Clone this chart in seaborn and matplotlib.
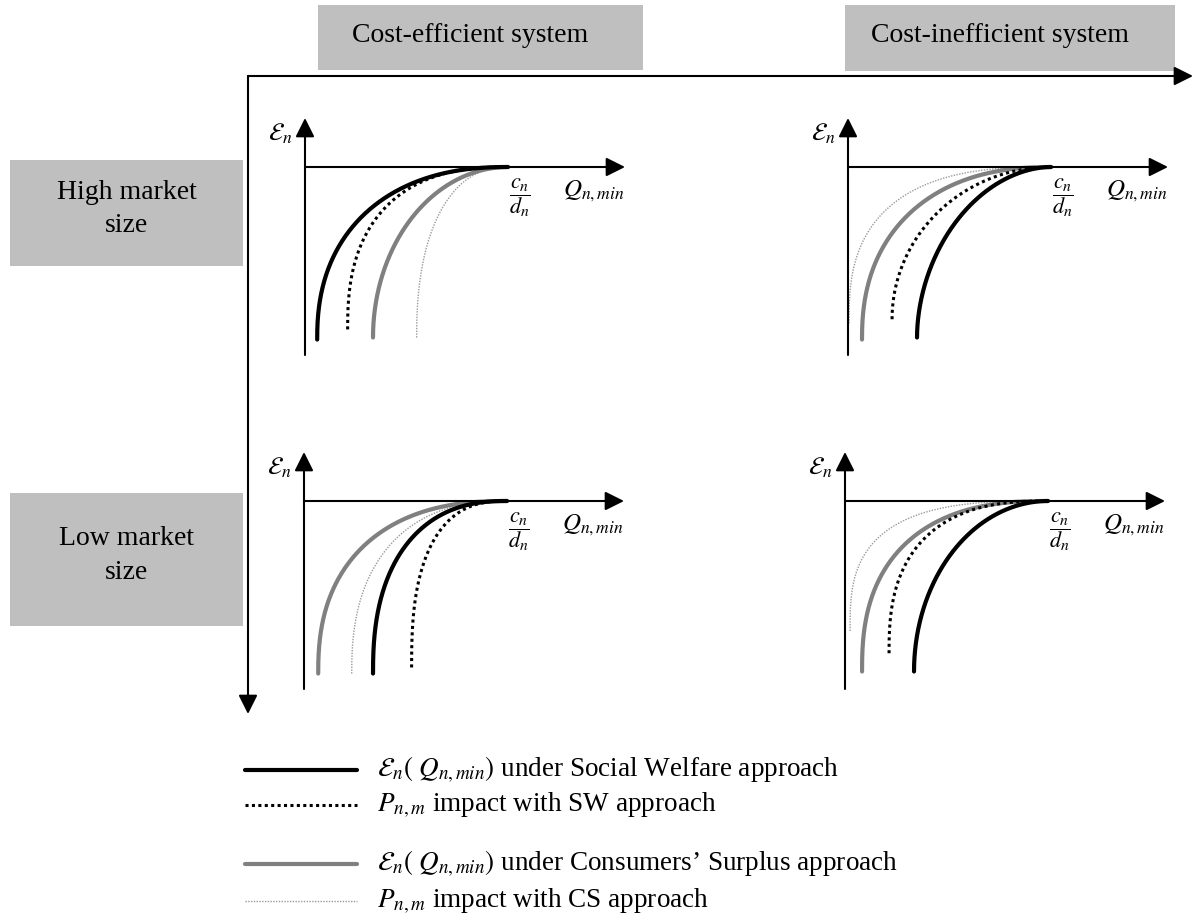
import numpy as np
import matplotlib
matplotlib.use("Agg")
import matplotlib.pyplot as plt
from matplotlib.patches import Rectangle
import seaborn as sns

# headers of the 2x2 scheme
col_labels = ["Cost-efficient system", "Cost-inefficient system"]
row_labels = ["High market\nsize", "Low market\nsize"]

# legend entries, same order as the curves below
legend_labels = [
    r"$\mathcal{E}_n(\ Q_{n,min})$ under Social Welfare approach",
    r"$P_{n,m}$ impact with SW approach",
    r"$\mathcal{E}_n(\ Q_{n,min})$ under Consumers’ Surplus approach",
    r"$P_{n,m}$ impact with CS approach",
]

# curves per panel: [SW, SW P-impact, CS, CS P-impact]
# start on the Q axis (c_n/d_n = 1), depth below zero, bend of the curve
start_high_eff = [0.06, 0.21, 0.335, 0.55]
depth_high_eff = [0.85, 0.80, 0.84, 0.84]
bend_high_eff = [2.3, 2.5, 2.0, 2.3]

start_high_ineff = [0.34, 0.217, 0.069, 0.005]
depth_high_ineff = [0.84, 0.75, 0.85, 0.77]
bend_high_ineff = [1.9, 2.0, 2.3, 2.7]

start_low_eff = [0.34, 0.53, 0.07, 0.235]
depth_low_eff = [0.85, 0.82, 0.85, 0.85]
bend_low_eff = [2.4, 2.6, 2.4, 2.4]

start_low_ineff = [0.34, 0.217, 0.084, 0.025]
depth_low_ineff = [0.84, 0.75, 0.84, 0.64]
bend_low_ineff = [2.0, 2.6, 2.5, 3.0]

sns.set_theme(style="white")
plt.rcParams["font.family"] = ["Liberation Serif", "DejaVu Serif"]
plt.rcParams["mathtext.fontset"] = "stix"
plt.rcParams["text.color"] = "black"

styles = [
    dict(color="black", lw=3.0, linestyle="-"),
    dict(color="black", lw=2.2, linestyle=(0, (1, 1.1))),
    dict(color="#808080", lw=3.0, linestyle="-"),
    dict(color="#9a9a9a", lw=1.0, linestyle=(0, (1, 1))),
]

W, H = 1196, 917
U = 203.0  # pixels per unit of Q in the small panels
fig = plt.figure(figsize=(W / 100, H / 100), dpi=100)
base = fig.add_axes([0, 0, 1, 1])
base.set_xlim(0, W)
base.set_ylim(H, 0)
base.axis("off")


def arrow(ax, start, tip):
    ax.annotate("", xy=tip, xytext=start, annotation_clip=False,
                arrowprops=dict(arrowstyle="-|>,head_length=0.5,head_width=0.25",
                                lw=1.5, color="black", shrinkA=0, shrinkB=0,
                                mutation_scale=23))


def panel(ox, oy, starts, depths, bends):
    left, right, up, down = 70, 350, 75, 210
    ax = fig.add_axes([(ox - left) / W, (H - (oy + down)) / H,
                       (left + right) / W, (up + down) / H])
    ax.set_xlim(-left / U, right / U)
    ax.set_ylim(-down / U, up / U)
    ax.axis("off")
    arrow(ax, (0, -188 / U), (0, 49 / U))
    arrow(ax, (0, 0), (320 / U, 0))
    th = np.linspace(0, np.pi / 2, 300)
    for i in [3, 2, 1, 0]:
        s, d, n = starts[i], depths[i], bends[i]
        u = 1 - np.cos(th) ** (2 / n)
        v = np.sin(th) ** (2 / n)
        sns.lineplot(x=s + (1 - s) * u, y=-d + d * v, ax=ax, sort=False,
                     estimator=None, **styles[i])
    ax.text(-0.06, 0.165, r"$\mathcal{E}_n$", ha="right", va="center", fontsize=18)
    ax.text(1.06, -0.15, r"$\dfrac{c_n}{d_n}$", ha="center", va="center", fontsize=16)
    ax.text(1.27, -0.118, r"$Q_{n,min}$", ha="left", va="center", fontsize=18)


panel(305, 167, start_high_eff, depth_high_eff, bend_high_eff)
panel(848, 167, start_high_ineff, depth_high_ineff, bend_high_ineff)
panel(304, 501, start_low_eff, depth_low_eff, bend_low_eff)
panel(845, 501, start_low_ineff, depth_low_ineff, bend_low_ineff)

# big frame arrows
arrow(base, (248, 76), (1193, 76))
arrow(base, (248, 76), (248, 714))

# grey header boxes
box = "#bfbfbf"
for (x0, y0, x1, y1), (tx, ty), lab in zip(
        [(318, 5, 643, 70), (845, 5, 1175, 71)], [(470, 35), (1000, 35)], col_labels):
    base.add_patch(Rectangle((x0, y0), x1 - x0, y1 - y0, color=box, lw=0))
    base.text(tx, ty, lab, ha="center", va="center", fontsize=20)
for (x0, y0, x1, y1), lab in zip([(10, 160, 243, 266), (10, 493, 243, 626)], row_labels):
    base.add_patch(Rectangle((x0, y0), x1 - x0, y1 - y0, color=box, lw=0))
    base.text((x0 + x1) / 2, (y0 + y1) / 2 - 4, lab, ha="center", va="center",
              fontsize=20, linespacing=1.45)

# legend
for yy, lab, st in zip([770, 805, 864, 901], legend_labels, styles):
    base.plot([245, 357], [yy, yy], **st)
    base.text(377, yy, lab, ha="left", va="center", fontsize=19.5)

fig.savefig("out.png", dpi=100)
